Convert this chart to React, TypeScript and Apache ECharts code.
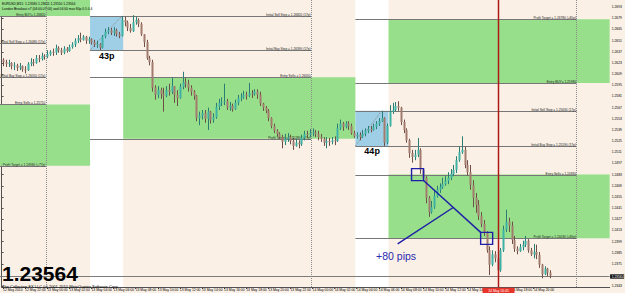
import React, { useEffect, useRef } from "react";
import * as echarts from "echarts";

const W = 625;
const H = 293;
const FONT = '"Liberation Sans", Arial, sans-serif';

// ---------- axes ----------
const timeTickLabels = [
  "12 May 2010", "12 May 22:00", "13 May 00:00", "13 May 02:00", "13 May 04:00",
  "13 May 06:00", "13 May 08:00", "13 May 10:00", "13 May 12:00", "13 May 14:00",
  "13 May 16:00", "13 May 18:00", "13 May 20:00", "13 May 22:00", "14 May 00:00",
  "14 May 02:00", "14 May 04:00", "14 May 06:00", "14 May 08:00", "14 May 10:00",
  "14 May 12:00", "14 May 14:00", "14 May 16:00", "14 May 18:00", "14 May 20:00",
];
const BAR_SLOTS = 220;
const BARS_PER_TICK = 8;
// price-axis labels (the one under the current-price tag is hidden, as in the terminal)
const yTicks = [
  1.2693, 1.2679, 1.2665, 1.2651, 1.2637, 1.2623, 1.2609, 1.2595, 1.2581, 1.2567,
  1.2553, 1.2539, 1.2525, 1.2511, 1.2497, 1.2483, 1.2469, 1.2455, 1.2441, 1.2427,
  1.2413, 1.2399, 1.2385, 1.2371, 1.2343,
];
const Y_MIN = 1.2342;
const Y_MAX = 1.2702;

// ---------- EURUSD M15 candles ----------
const firstOpen = 1.2627;
const closes = [
  1.2624, 1.2622, 1.2623, 1.2619, 1.262, 1.2617, 1.2619, 1.2615, 1.2614, 1.2622,
  1.2624, 1.2623, 1.2629, 1.2628, 1.2632, 1.2631, 1.2634, 1.2637, 1.2636, 1.2642,
  1.2639, 1.2636, 1.2641, 1.2638, 1.2643, 1.2646, 1.2651, 1.2654, 1.2652, 1.2656,
  1.2651, 1.2653, 1.2649, 1.2646, 1.2647, 1.2642, 1.2656, 1.2662, 1.2664, 1.2661,
  1.2664, 1.2659, 1.2657, 1.2677, 1.2674, 1.2667, 1.2663, 1.2674, 1.2677, 1.2672,
  1.2659, 1.2649, 1.2629, 1.2624, 1.2592, 1.2583, 1.2589, 1.2584, 1.2582, 1.2589,
  1.2587, 1.2594, 1.2583, 1.2579, 1.2593, 1.2599, 1.2597, 1.2592, 1.2587, 1.2582,
  1.2554, 1.2557, 1.256, 1.2553, 1.2562, 1.2552, 1.2555, 1.2568, 1.2573, 1.2574,
  1.2575, 1.2567, 1.2569, 1.2565, 1.2573, 1.2579, 1.258, 1.2583, 1.2582, 1.2585,
  1.2584, 1.2587, 1.2583, 1.2572, 1.2567, 1.2563, 1.2554, 1.2544, 1.2538, 1.2534,
  1.253, 1.2524, 1.2528, 1.253, 1.2525, 1.2519, 1.2523, 1.2521, 1.2529, 1.2534,
  1.2533, 1.2535, 1.2536, 1.2534, 1.253, 1.2528, 1.2523, 1.2525, 1.2524, 1.2526,
  1.2525, 1.2541, 1.2547, 1.2543, 1.2547, 1.2544, 1.2535, 1.2531, 1.2533, 1.253,
  1.2534, 1.2538, 1.254, 1.2539, 1.2543, 1.2547, 1.255, 1.2554, 1.2523, 1.2544,
  1.2562, 1.2564, 1.2569, 1.2567, 1.2549, 1.2539, 1.2526, 1.251, 1.2505, 1.2508,
  1.2514, 1.2489, 1.2479, 1.2454, 1.2436, 1.2442, 1.2456, 1.2464, 1.2467, 1.2471,
  1.2475, 1.2479, 1.2484, 1.2489, 1.2501, 1.2511, 1.2514, 1.2495, 1.2486, 1.247,
  1.2454, 1.2445, 1.2431, 1.2421, 1.2411, 1.2388, 1.237, 1.2383, 1.2378, 1.2363,
  1.2388, 1.2414, 1.2424, 1.2419, 1.2401, 1.239, 1.2387, 1.2392, 1.2395, 1.24,
  1.2388, 1.2383, 1.2386, 1.2382, 1.237, 1.2358, 1.2365, 1.236, 1.23564,
];
const highs = [
  1.2629, 1.2627, 1.2627, 1.2624, 1.2624, 1.2622, 1.2623, 1.262, 1.2619, 1.2624,
  1.2629, 1.2628, 1.2633, 1.2633, 1.2636, 1.2634, 1.2639, 1.2639, 1.2641, 1.2646,
  1.2644, 1.2642, 1.2644, 1.2643, 1.2646, 1.2649, 1.2654, 1.2658, 1.2661, 1.2658,
  1.2657, 1.2656, 1.2654, 1.2652, 1.2651, 1.2648, 1.2658, 1.2666, 1.2668, 1.2667,
  1.2668, 1.2666, 1.2662, 1.2682, 1.2681, 1.2676, 1.2672, 1.2683, 1.2681, 1.2679,
  1.2674, 1.2659, 1.2652, 1.2632, 1.2627, 1.2595, 1.2594, 1.2592, 1.2592, 1.2594,
  1.2597, 1.2605, 1.2594, 1.2589, 1.2597, 1.2612, 1.2604, 1.2602, 1.2595, 1.2589,
  1.2583, 1.2562, 1.2564, 1.2564, 1.2567, 1.2563, 1.256, 1.2573, 1.2578, 1.258,
  1.2597, 1.2578, 1.2574, 1.2572, 1.2577, 1.2583, 1.2585, 1.2588, 1.2587, 1.2598,
  1.2589, 1.259, 1.259, 1.2587, 1.2573, 1.2569, 1.2565, 1.2555, 1.2547, 1.254,
  1.2536, 1.2533, 1.2534, 1.2535, 1.2533, 1.2529, 1.2528, 1.2526, 1.2533, 1.2538,
  1.2538, 1.254, 1.2541, 1.2539, 1.2538, 1.2534, 1.253, 1.253, 1.2529, 1.253,
  1.2531, 1.2547, 1.2552, 1.2549, 1.255, 1.255, 1.2547, 1.2538, 1.2536, 1.2536,
  1.2539, 1.2541, 1.2544, 1.2544, 1.2547, 1.255, 1.2554, 1.2563, 1.2555, 1.2547,
  1.257, 1.2573, 1.2574, 1.2575, 1.2568, 1.2552, 1.2541, 1.2528, 1.2514, 1.2514,
  1.2529, 1.2516, 1.2491, 1.2481, 1.2456, 1.245, 1.2464, 1.2469, 1.2472, 1.2479,
  1.2481, 1.2486, 1.249, 1.2495, 1.2506, 1.2518, 1.2531, 1.2518, 1.2501, 1.2495,
  1.2476, 1.246, 1.2451, 1.2436, 1.2426, 1.2412, 1.2393, 1.2388, 1.2387, 1.2382,
  1.2391, 1.2419, 1.2439, 1.2429, 1.2424, 1.2406, 1.2393, 1.2396, 1.24, 1.2406,
  1.2402, 1.2391, 1.2396, 1.2395, 1.2386, 1.2371, 1.2368, 1.2366, 1.2363,
];
const lows = [
  1.2619, 1.2618, 1.2618, 1.2615, 1.2614, 1.2613, 1.2614, 1.2612, 1.261, 1.2613,
  1.2619, 1.2619, 1.2622, 1.2624, 1.2626, 1.2627, 1.2629, 1.2632, 1.2632, 1.2633,
  1.2636, 1.2633, 1.2634, 1.2636, 1.2637, 1.2641, 1.2643, 1.2648, 1.2649, 1.2651,
  1.2647, 1.2647, 1.2646, 1.2643, 1.2642, 1.2639, 1.2641, 1.2654, 1.2659, 1.2658,
  1.2657, 1.2656, 1.2654, 1.2656, 1.2669, 1.2663, 1.2661, 1.2662, 1.2671, 1.2668,
  1.2657, 1.2643, 1.2627, 1.262, 1.2587, 1.2577, 1.2579, 1.2578, 1.2562, 1.258,
  1.2582, 1.2584, 1.2573, 1.2569, 1.2578, 1.259, 1.2592, 1.2587, 1.2582, 1.2577,
  1.255, 1.2545, 1.2552, 1.2548, 1.2539, 1.2547, 1.2548, 1.2553, 1.2564, 1.2569,
  1.257, 1.2564, 1.2563, 1.2562, 1.2564, 1.257, 1.2575, 1.2578, 1.2577, 1.258,
  1.2579, 1.2582, 1.2578, 1.2569, 1.2563, 1.256, 1.255, 1.2541, 1.2535, 1.2531,
  1.2528, 1.2516, 1.252, 1.2524, 1.2521, 1.2514, 1.2518, 1.2516, 1.2519, 1.2526,
  1.2529, 1.253, 1.2531, 1.253, 1.2526, 1.2524, 1.2519, 1.2516, 1.2519, 1.2521,
  1.252, 1.2524, 1.2539, 1.2538, 1.2541, 1.2539, 1.2533, 1.2529, 1.2528, 1.2526,
  1.2529, 1.2531, 1.2535, 1.2536, 1.2538, 1.254, 1.2544, 1.2549, 1.2519, 1.2521,
  1.2543, 1.2559, 1.2562, 1.2563, 1.2545, 1.2535, 1.2523, 1.2504, 1.2498, 1.2501,
  1.2505, 1.2484, 1.2475, 1.2447, 1.243, 1.2434, 1.244, 1.2454, 1.246, 1.2465,
  1.2469, 1.2471, 1.2476, 1.2481, 1.2485, 1.2499, 1.2509, 1.2491, 1.2482, 1.2464,
  1.2442, 1.2435, 1.2426, 1.2417, 1.2406, 1.2385, 1.2357, 1.2368, 1.2373, 1.236,
  1.2361, 1.2386, 1.2411, 1.2411, 1.2396, 1.2386, 1.2383, 1.2386, 1.2388, 1.2392,
  1.2385, 1.2381, 1.2378, 1.2377, 1.2366, 1.2353, 1.2357, 1.2355, 1.2353,
];
const currentPrice = 1.23564;

// ---------- London breakout objects (bar indices / prices) ----------
const rangeWindows = [[32, 44], [128, 140]];
const lineSpans = [[-10, 16], [32, 112], [128, 208]];
const zoneSpans = [[-10, 32], [44, 128], [140, 220]];
const profitBuy = [1.2762, 1.2797, 1.2678];
const entryBuy = [1.2682, 1.2717, 1.2598];
const sellStop = [1.2648, 1.2682, 1.2563];
const buyStop = [1.2605, 1.2639, 1.2519];
const entrySell = [1.2571, 1.2605, 1.2483];
const profitSell = [1.2494, 1.2528, 1.2403];
const stopTag = "17p";
const daySeparators = [16, 112, 208];
const markerBar = 179;
const markerTime = "14 May 16:45";
const calloutSquares = [[150.5, 1.2483], [175.5, 1.2403]];
const calloutStart = [143.3, 1.2396];
const calloutText = "+80 pips";
const calloutTextPos = [135.5, 1.2381];

// ---------- styles ----------
const BG = "#FAF0E6";
const GREEN = "#97DF8A";
const BLUE_BOX = "#9ECFE6";
const LINE = "#777777";
const BULL = "#3DB3A5";
const BULL_WICK = "#2B7C73";
const BEAR = "#A37A6E";
const BEAR_WICK = "#6E4E45";
const ANNOT = "#1E1EA8";

const opens = closes.map((_, i) => (i === 0 ? firstOpen : closes[i - 1]));
const candleData = closes.map((c, i) => [i, opens[i], c, lows[i], highs[i]]);

const rangeBoxes = rangeWindows.map(([s, e]) => {
  let hi = -Infinity, lo = Infinity, hiBar = s;
  for (let i = s; i < e; i++) {
    if (highs[i] > hi) { hi = highs[i]; hiBar = i; }
    if (lows[i] < lo) lo = lows[i];
  }
  return { s, e, hi, lo, hiBar };
});

type Zone = { x0: number; x1: number; top: number; bot: number; fill: string };
const zoneRows: Zone[] = [];
rangeWindows.forEach(([s, e]) => zoneRows.push({ x0: s, x1: e, top: Y_MAX, bot: Y_MIN, fill: "#FFFFFF" }));
zoneSpans.forEach(([s, e], d) => {
  zoneRows.push({ x0: s, x1: e, top: profitBuy[d], bot: entryBuy[d], fill: GREEN });
  zoneRows.push({ x0: s, x1: e, top: entrySell[d], bot: profitSell[d], fill: GREEN });
});
rangeBoxes.forEach((b) => zoneRows.push({ x0: b.s, x1: b.e, top: b.hi, bot: b.lo, fill: BLUE_BOX }));

type Level = { x0: number; x1: number; price: number; text: string };
const levelRows: Level[] = [];
lineSpans.forEach(([s, e], d) => {
  const pb = Math.round((profitBuy[d] - entryBuy[d]) * 1e4);
  const ps = Math.round((entrySell[d] - profitSell[d]) * 1e4);
  const add = (price: number, text: string) => levelRows.push({ x0: s, x1: e, price, text });
  add(profitBuy[d], `Profit Target = ${profitBuy[d].toFixed(5)} (+${pb}p)`);
  add(entryBuy[d], `Entry BUY= ${entryBuy[d].toFixed(5)}`);
  add(sellStop[d], `Initial Sell Stop = ${sellStop[d].toFixed(5)} (${stopTag})`);
  add(buyStop[d], `Initial Buy Stop = ${buyStop[d].toFixed(5)} (${stopTag})`);
  add(entrySell[d], `Entry Sells = ${entrySell[d].toFixed(5)}`);
  add(profitSell[d], `Profit Target = ${profitSell[d].toFixed(5)} (+${ps}p)`);
});

const tickFilter = (idx: number) => idx % BARS_PER_TICK === 0 && idx / BARS_PER_TICK < timeTickLabels.length;
const categories = Array.from({ length: BAR_SLOTS }, (_, i) => `b${i}`);

function buildOption(): any {
  return {
    animation: false,
    backgroundColor: BG,
    grid: { left: 0, right: 13, top: 0, bottom: 6, containLabel: false },
    xAxis: [
      {
        type: "category",
        data: categories,
        boundaryGap: true,
        axisLine: { show: true, lineStyle: { color: "#505050", width: 1 } },
        axisTick: { show: true, alignWithLabel: true, interval: tickFilter, length: 2, lineStyle: { color: "#505050" } },
        axisLabel: {
          interval: tickFilter,
          formatter: (_v: string, idx: number) => timeTickLabels[idx / BARS_PER_TICK] ?? "",
          fontSize: 3.4,
          fontFamily: FONT,
          color: "#000",
          align: "left",
          margin: 1.5,
        },
        splitLine: { show: false },
      },
      { type: "value", min: 0, max: BAR_SLOTS, show: false },
    ],
    yAxis: {
      type: "value",
      position: "right",
      min: Y_MIN,
      max: Y_MAX,
      scale: true,
      splitLine: { show: false },
      axisLine: { show: true, lineStyle: { color: "#505050", width: 1 } },
      axisTick: { show: true, length: 2, customValues: yTicks, lineStyle: { color: "#505050" } },
      axisLabel: {
        customValues: yTicks,
        formatter: (v: number) => v.toFixed(4),
        fontSize: 3.4,
        fontFamily: FONT,
        color: "#000",
        margin: 2,
      },
    },
    graphic: [
      { type: "text", x: 2, y: 4, z: 100, style: { text: "EURUSD,M15  1.23580 1.23611 1.23550 1.23564", fontSize: 3.3, fontFamily: FONT, fill: "#000", verticalAlign: "middle" } },
      { type: "text", x: 2, y: 8.5, z: 100, style: { text: "London Breakout v7 (04:00-07:00) and 04:00 max 80p 0.5 0.4", fontSize: 3.3, fontFamily: FONT, fill: "#000", verticalAlign: "middle" } },
      { type: "text", x: 2, y: 273.3, z: 100, style: { text: "1.23564", fontSize: 21, fontWeight: "bold", fontFamily: FONT, fill: "#000", verticalAlign: "middle" } },
      { type: "text", x: 2, y: 286.4, z: 100, style: { text: "The Collective FX LLC (c) 2001-2010 MetaQuotes Software Corp.", fontSize: 4, fontFamily: FONT, fill: "#000", verticalAlign: "middle" } },
    ],
    series: [
      {
        type: "custom",
        name: "zones",
        xAxisIndex: 1,
        z: 1,
        silent: true,
        data: zoneRows.map((r) => [r.x0, r.top]),
        renderItem: (params: any, api: any) => {
          const r = zoneRows[params.dataIndex];
          const top = Math.min(r.top, Y_MAX);
          const bot = Math.max(r.bot, Y_MIN);
          if (top <= bot) return null;
          const p0 = api.coord([r.x0, top]);
          const p1 = api.coord([r.x1, bot]);
          return { type: "rect", shape: { x: p0[0], y: p0[1], width: p1[0] - p0[0], height: p1[1] - p0[1] }, style: { fill: r.fill } };
        },
      },
      {
        type: "custom",
        name: "backOverlay",
        xAxisIndex: 1,
        z: 2,
        silent: true,
        data: [[0, Y_MIN]],
        renderItem: (_p: any, api: any) => {
          const children: any[] = [];
          const top = api.coord([0, Y_MAX])[1];
          const bottom = api.coord([0, Y_MIN])[1];
          daySeparators.forEach((b) => {
            const x = Math.round(api.coord([b, Y_MIN])[0]) + 0.5;
            children.push({ type: "line", shape: { x1: x, y1: top, x2: x, y2: bottom }, style: { stroke: "#8C8C8C", lineWidth: 1, lineDash: [1, 1] } });
          });
          const py = Math.round(api.coord([0, currentPrice])[1]) + 0.5;
          const xr = api.coord([BAR_SLOTS, currentPrice])[0];
          children.push({ type: "line", shape: { x1: 0, y1: py, x2: xr, y2: py }, style: { stroke: "#7C7C7C", lineWidth: 1 } });
          rangeBoxes.forEach((b) => {
            const p0 = api.coord([b.s, b.lo]);
            const p1 = api.coord([b.hiBar + 0.5, b.hi]);
            children.push({ type: "line", shape: { x1: p0[0], y1: p0[1], x2: p1[0], y2: p1[1] }, style: { stroke: "#8A8A8A", lineWidth: 1, lineDash: [1, 1] } });
          });
          return { type: "group", children };
        },
      },
      {
        type: "custom",
        name: "levels",
        xAxisIndex: 1,
        z: 2,
        silent: true,
        data: levelRows.map((r) => [r.x0, r.price]),
        renderItem: (params: any, api: any) => {
          const r = levelRows[params.dataIndex];
          if (r.price > Y_MAX || r.price < Y_MIN) return null;
          const p0 = api.coord([r.x0, r.price]);
          const p1 = api.coord([r.x1, r.price]);
          const y = Math.round(p0[1]) + 0.5;
          return {
            type: "group",
            children: [
              { type: "line", shape: { x1: p0[0], y1: y, x2: p1[0], y2: y }, style: { stroke: LINE, lineWidth: 1 } },
              { type: "text", x: p1[0] - 0.5, y: y - 0.4, style: { text: r.text, fontSize: 3.2, fontFamily: FONT, fill: "#222", align: "right", verticalAlign: "bottom" } },
            ],
          };
        },
      },
      {
        type: "custom",
        name: "EURUSD",
        xAxisIndex: 0,
        z: 3,
        data: candleData,
        encode: { x: 0, y: [1, 2, 3, 4] },
        renderItem: (_p: any, api: any) => {
          const i = api.value(0);
          const o = api.value(1), c = api.value(2), l = api.value(3), h = api.value(4);
          const xo = api.coord([i, o]);
          const x = xo[0];
          const yO = xo[1];
          const yC = api.coord([i, c])[1];
          const yL = api.coord([i, l])[1];
          const yH = api.coord([i, h])[1];
          const up = c >= o;
          const wx = Math.round(x) + 0.5;
          const bw = 2;
          const bTop = Math.min(yO, yC);
          const bh = Math.max(Math.abs(yC - yO), 1);
          return {
            type: "group",
            children: [
              { type: "line", shape: { x1: wx, y1: yH, x2: wx, y2: yL }, style: { stroke: up ? BULL_WICK : BEAR_WICK, lineWidth: 1 } },
              { type: "rect", shape: { x: Math.round(x) - 0.5, y: bTop, width: bw, height: bh }, style: { fill: up ? BULL : BEAR } },
            ],
          };
        },
      },
      {
        type: "custom",
        name: "frontOverlay",
        xAxisIndex: 1,
        z: 5,
        silent: true,
        data: [[0, Y_MIN]],
        renderItem: (_p: any, api: any) => {
          const children: any[] = [];
          const top = api.coord([0, Y_MAX])[1];
          const bottom = api.coord([0, Y_MIN])[1];
          rangeBoxes.forEach((b) => {
            const p = api.coord([b.s, b.lo]);
            children.push({ type: "text", x: p[0] + 9, y: p[1] + 1, style: { text: `${Math.round((b.hi - b.lo) * 1e4)}p`, fontSize: 9, fontWeight: "bold", fontFamily: FONT, fill: "#000", verticalAlign: "top" } });
          });
          const mx = Math.round(api.coord([markerBar + 0.5, Y_MIN])[0]) + 0.5;
          children.push({ type: "line", shape: { x1: mx, y1: top, x2: mx, y2: bottom }, style: { stroke: "#B01818", lineWidth: 1.5 } });
          children.push({ type: "rect", shape: { x: mx - 16, y: bottom + 0.7, width: 32, height: 6 }, style: { fill: "#E8352B" } });
          children.push({ type: "text", x: mx, y: bottom + 3.6, style: { text: markerTime, fontSize: 3.4, fontFamily: FONT, fill: "#fff", align: "center", verticalAlign: "middle" } });
          const py = Math.round(api.coord([0, currentPrice])[1]) + 0.5;
          const xr = api.coord([BAR_SLOTS, currentPrice])[0];
          children.push({ type: "rect", shape: { x: xr + 0.5, y: py - 2.2, width: 14, height: 4.4 }, style: { fill: "#111" } });
          children.push({ type: "text", x: xr + 2, y: py, style: { text: currentPrice.toFixed(5), fontSize: 3.4, fontFamily: FONT, fill: "#fff", verticalAlign: "middle" } });
          const hs = 6;
          const c1 = api.coord(calloutSquares[0]);
          const c2 = api.coord(calloutSquares[1]);
          [c1, c2].forEach((c) => {
            children.push({ type: "rect", shape: { x: c[0] - hs, y: c[1] - hs, width: hs * 2, height: hs * 2 }, style: { fill: "none", stroke: ANNOT, lineWidth: 1.4 } });
          });
          const a = [c1[0] + hs, c1[1] + hs];
          const b = [c2[0] - hs, c2[1] - hs];
          children.push({ type: "line", shape: { x1: a[0], y1: a[1], x2: b[0], y2: b[1] }, style: { stroke: ANNOT, lineWidth: 1.4 } });
          const t = 0.52;
          const mid = [a[0] + (b[0] - a[0]) * t, a[1] + (b[1] - a[1]) * t];
          const s = api.coord(calloutStart);
          children.push({ type: "line", shape: { x1: s[0], y1: s[1], x2: mid[0], y2: mid[1] }, style: { stroke: ANNOT, lineWidth: 1.4 } });
          const tp = api.coord(calloutTextPos);
          children.push({ type: "text", x: tp[0], y: tp[1], style: { text: calloutText, fontSize: 10.5, fontFamily: FONT, fill: "#2A2AB0", verticalAlign: "middle" } });
          return { type: "group", children };
        },
      },
    ],
  };
}

export default function App() {
  const ref = useRef<HTMLDivElement>(null);
  useEffect(() => {
    if (!ref.current) return;
    document.body.style.margin = "0";
    const chart = echarts.init(ref.current, undefined, { renderer: "svg", width: W, height: H });
    chart.setOption(buildOption());
    return () => chart.dispose();
  }, []);
  return <div ref={ref} style={{ position: "absolute", left: 0, top: 0, width: W, height: H }} />;
}
